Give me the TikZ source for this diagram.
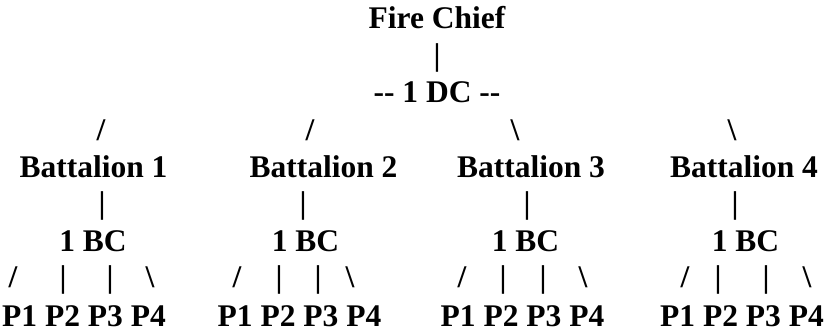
\documentclass[tikz,border=0pt]{standalone}
\usepackage{fontspec}
\newfontfamily\tnrfont{Liberation Serif}[BoldFont={Liberation Serif Bold}]
\begin{document}
\begin{tikzpicture}[x=1pt,y=1pt,
  lbl/.style={inner sep=0pt,anchor=base,font=\tnrfont\fontsize{31.5}{37}\selectfont\bfseries}]
\useasboundingbox (0,0) rectangle (828,331);
% rows: baseline y = 331 - (28 + 37.4 k)
\node[lbl] (chief) at (437,302) {Fire Chief};
\node[lbl] (c1) at (437,265.6) {|};
\node[lbl] (dc) at (437,228.2) {-{}- 1 DC -{}-};
\node[lbl] (s1) at (101,190.8) {/};
\node[lbl] (s2) at (310,190.8) {/};
\node[lbl] (s3) at (515,190.8) {\textbackslash};
\node[lbl] (s4) at (732,190.8) {\textbackslash};
\node[lbl] (b1) at (93.5,153.4) {Battalion 1};
\node[lbl] (b2) at (323.5,153.4) {Battalion 2};
\node[lbl] (b3) at (531,153.4) {Battalion 3};
\node[lbl] (b4) at (744,153.4) {Battalion 4};
\node[lbl] (v1) at (102,117) {|};
\node[lbl] (v2) at (303,117) {|};
\node[lbl] (v3) at (527,117) {|};
\node[lbl] (v4) at (735,117) {|};
\node[lbl] (bc1) at (93,79.6) {1 BC};
\node[lbl] (bc2) at (305.5,79.6) {1 BC};
\node[lbl] (bc3) at (525.5,79.6) {1 BC};
\node[lbl] (bc4) at (745.5,79.6) {1 BC};
% branch glyphs
\node[lbl] (a1) at (13,43) {/};
\node[lbl] (a2) at (63,43) {|};
\node[lbl] (a3) at (110,43) {|};
\node[lbl] (a4) at (150,43) {\textbackslash};
\node[lbl] (d1) at (237,43) {/};
\node[lbl] (d2) at (279,43) {|};
\node[lbl] (d3) at (318,43) {|};
\node[lbl] (d4) at (350,43) {\textbackslash};
\node[lbl] (e1) at (462,43) {/};
\node[lbl] (e2) at (503,43) {|};
\node[lbl] (e3) at (543,43) {|};
\node[lbl] (e4) at (583,43) {\textbackslash};
\node[lbl] (f1) at (685,43) {/};
\node[lbl] (f2) at (718,43) {|};
\node[lbl] (f3) at (766,43) {|};
\node[lbl] (f4) at (807,43) {\textbackslash};
\node[lbl] (p1) at (84,4.5) {P1 P2 P3 P4};
\node[lbl] (p2) at (299.5,4.5) {P1 P2 P3 P4};
\node[lbl] (p3) at (522.5,4.5) {P1 P2 P3 P4};
\node[lbl] (p4) at (742,4.5) {P1 P2 P3 P4};
\end{tikzpicture}
\end{document}
